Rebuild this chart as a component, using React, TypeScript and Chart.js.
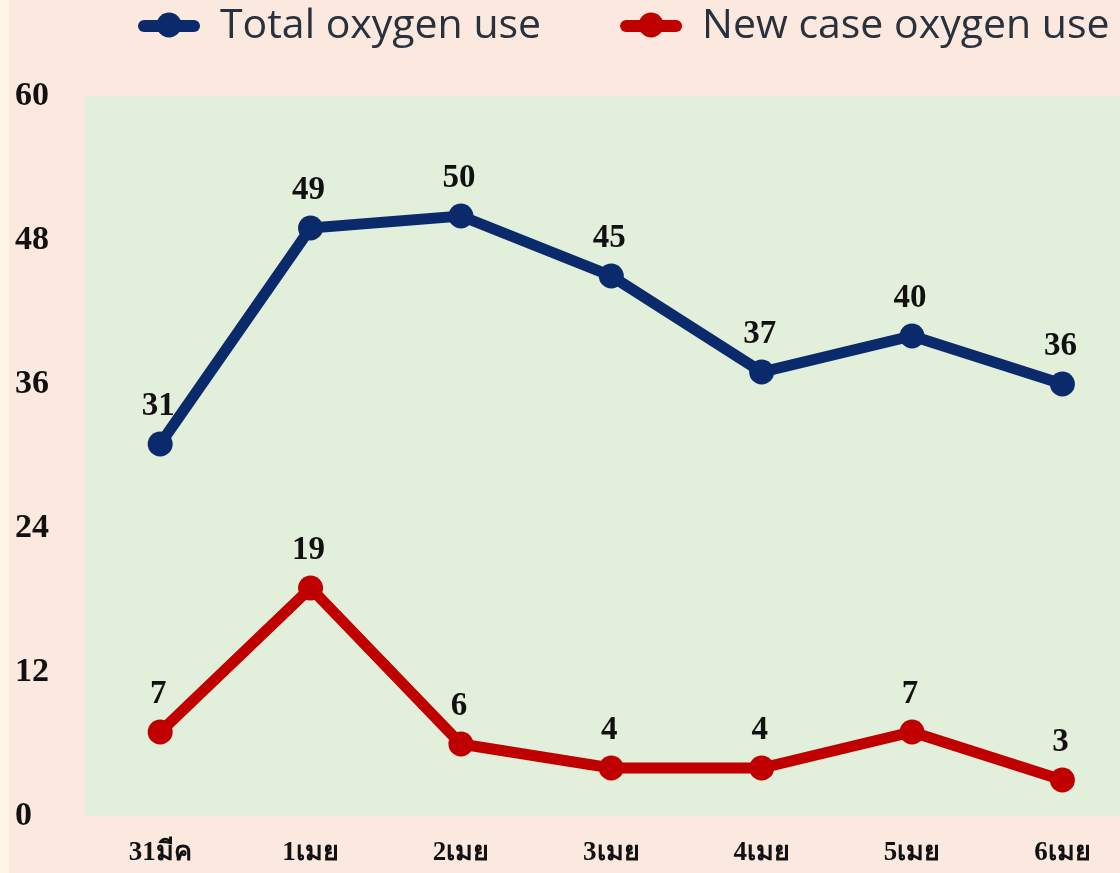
import React, { useEffect, useRef } from "react";
import { Chart, registerables } from "chart.js";

Chart.register(...registerables);

const categories = ["31มีค", "1เมย", "2เมย", "3เมย", "4เมย", "5เมย", "6เมย"];
const totalOxygen = [31, 49, 50, 45, 37, 40, 36];
const newCaseOxygen = [7, 19, 6, 4, 4, 7, 3];
const yTicks = [0, 12, 24, 36, 48, 60];
const seriesNames = ["Total oxygen use", "New case oxygen use"];
const seriesColors = ["#0b2a6b", "#c00000"];

const PEACH = "#fbe9e0";
const GREEN = "#e2efda";
const SERIF = "'Liberation Serif', 'Times New Roman', serif";

const bgPlugin = {
  id: "plotBg",
  beforeDraw(chart: any) {
    const { ctx, chartArea } = chart;
    ctx.save();
    ctx.fillStyle = GREEN;
    ctx.fillRect(chartArea.left, chartArea.top, chart.width - chartArea.left, chartArea.bottom - chartArea.top);
    ctx.restore();
  },
};

const labelPlugin = {
  id: "pointLabels",
  afterDatasetsDraw(chart: any) {
    const { ctx } = chart;
    ctx.save();
    ctx.font = `bold 33px ${SERIF}`;
    ctx.fillStyle = "#111111";
    ctx.textAlign = "center";
    ctx.textBaseline = "middle";
    chart.data.datasets.forEach((ds: any, di: number) => {
      const meta = chart.getDatasetMeta(di);
      meta.data.forEach((pt: any, i: number) => {
        const v = ds.data[i].y;
        ctx.fillText(String(v), pt.x - 2, pt.y - 38);
      });
    });
    ctx.restore();
  },
};

const legendPlugin = {
  id: "customLegend",
  afterDraw(chart: any) {
    const { ctx } = chart;
    ctx.save();
    ctx.font = `41px 'Open Sans', 'Noto Sans', sans-serif`;
    ctx.textBaseline = "middle";
    ctx.textAlign = "left";
    const cy = 26;
    let x = 138;
    chart.data.datasets.forEach((ds: any) => {
      const color = ds.borderColor;
      ctx.strokeStyle = color;
      ctx.fillStyle = color;
      ctx.lineWidth = 12;
      ctx.lineCap = "round";
      ctx.beginPath();
      ctx.moveTo(x + 6, cy);
      ctx.lineTo(x + 56, cy);
      ctx.stroke();
      ctx.beginPath();
      ctx.arc(x + 31, cy - 1, 12.5, 0, Math.PI * 2);
      ctx.fill();
      ctx.fillStyle = "#28313c";
      const tx = x + 82;
      ctx.fillText(ds.label, tx, cy);
      x = tx + ctx.measureText(ds.label).width + 79;
    });
    ctx.restore();
  },
};

function App() {
  const canvasRef = useRef<HTMLCanvasElement | null>(null);

  useEffect(() => {
    document.body.style.margin = "0";
    const canvas = canvasRef.current;
    if (!canvas) return;
    const makeData = (arr: number[]) => arr.map((v, i) => ({ x: i, y: v }));
    const series = [totalOxygen, newCaseOxygen];
    const chart = new Chart(canvas, {
      type: "line",
      data: {
        datasets: series.map((arr, k) => ({
          label: seriesNames[k],
          data: makeData(arr),
          borderColor: seriesColors[k],
          backgroundColor: seriesColors[k],
          pointBackgroundColor: seriesColors[k],
          pointBorderWidth: 0,
          pointRadius: 12.5,
          borderWidth: 11,
          tension: 0,
          fill: false,
          clip: false as any,
        })),
      },
      options: {
        animation: false,
        responsive: false,
        maintainAspectRatio: false,
        layout: { padding: { top: 96, left: 15, right: 0, bottom: 0 } },
        plugins: {
          legend: { display: false },
          tooltip: { enabled: false },
        },
        scales: {
          x: {
            type: "linear",
            min: -0.5,
            max: 6.3,
            grid: { display: false, drawTicks: false },
            border: { display: false },
            afterBuildTicks: (scale: any) => {
              scale.ticks = categories.map((_, i) => ({ value: i }));
            },
            afterFit: (scale: any) => {
              scale.height = 57;
            },
            ticks: {
              autoSkip: false,
              maxRotation: 0,
              padding: 21,
              color: "#111111",
              font: { family: SERIF, size: 27, weight: "bold" },
              callback: (v: any) => categories[Number(v)] ?? "",
            },
          },
          y: {
            min: 0,
            max: 60,
            grid: { display: false, drawTicks: false },
            border: { display: false },
            afterBuildTicks: (scale: any) => {
              scale.ticks = yTicks.map((v) => ({ value: v }));
            },
            afterFit: (scale: any) => {
              scale.width = 70;
            },
            ticks: {
              crossAlign: "far",
              color: "#111111",
              font: { family: SERIF, size: 34, weight: "bold" },
            },
          },
        },
      },
      plugins: [bgPlugin, labelPlugin, legendPlugin],
    });
    return () => chart.destroy();
  }, []);

  return (
    <div
      style={{
        position: "absolute",
        left: 0,
        top: 0,
        width: 1120,
        height: 873,
        background: `linear-gradient(to right, #fdf5e6 0px, #fdf5e6 9px, ${PEACH} 9px)`,
      }}
    >
      <canvas ref={canvasRef} width={1120} height={873} style={{ display: "block" }} />
    </div>
  );
}

export default App;
